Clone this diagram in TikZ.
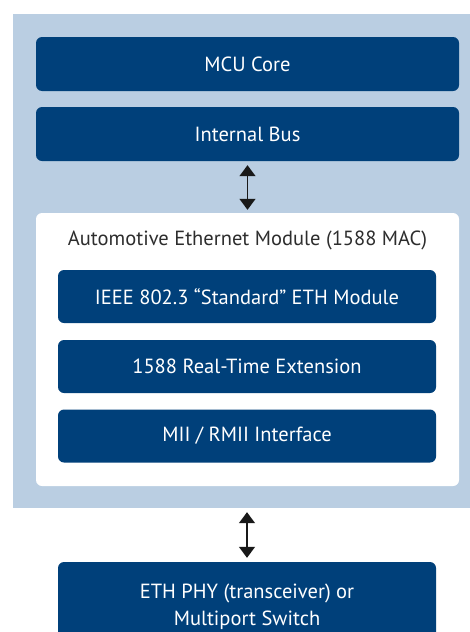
\documentclass[tikz,border=0pt]{standalone}
\usepackage{fontspec}
\setmainfont{PT Sans}
\usetikzlibrary{arrows.meta}
\definecolor{socblue}{RGB}{186,206,226}
\definecolor{boxblue}{RGB}{0,64,122}
\definecolor{titlegray}{RGB}{45,45,45}
\def\boxwidth{423pt}
\def\innerwidth{378pt}

\begin{document}
\begin{tikzpicture}[x=1pt,y=-1pt,font=\fontsize{20.5}{27}\selectfont]
    \tikzstyle{block}=[rectangle,rounded corners=6pt,fill=boxblue,text=white,
        minimum height=54pt,inner sep=0pt,align=center]
    \tikzstyle{outer block}=[block,minimum width=\boxwidth]
    \tikzstyle{inner block}=[block,minimum width=\innerwidth,minimum height=53pt]
    \tikzstyle{link}=[{Triangle[width=16pt,length=11pt]}-{Triangle[width=16pt,length=11pt]},
        line width=1.4pt,draw=black!90]

    \useasboundingbox (0,0) rectangle (470,632);

    % The MCU area and the module frame
    \node[rectangle,fill=socblue,minimum width=457pt,minimum height=494pt,inner sep=0pt]
        (soc) at (241.5,261) {};
    \node[rectangle,rounded corners=6pt,fill=white,minimum width=\boxwidth,
        minimum height=273pt,inner sep=0pt] (mod) at (247.5,349.5) {};
    \node[text=titlegray] (title) at (247.5,240) {Automotive Ethernet Module (1588 MAC)};

    % Draw the core and the bus
    \node[outer block] (core) at (247.5,64) {MCU Core};
    \node[outer block] (bus) at (247.5,134) {Internal Bus};

    % Draw the blocks inside the module
    \foreach \name / \y / \txt in {ieee/296.5/{IEEE 802.3 “Standard” ETH Module},
        rte/366.5/{1588 Real-Time Extension},
        mii/436/{MII / RMII Interface}}
        \node[inner block] (\name) at (247,\y) {\txt};

    % The PHY runs off the bottom edge
    \node[inner block,minimum height=90pt] (phy) at (247,607)
        {ETH PHY (transceiver) or\\Multiport Switch};

    % Connect the bus with the module and the module with the PHY
    \draw[link,shorten <=4pt,shorten >=3pt] (bus.south) -- (bus.south |- mod.north);
    \draw[link,shorten <=4pt,shorten >=4pt] (phy.north |- soc.south) -- (phy.north);
\end{tikzpicture}
\end{document}
